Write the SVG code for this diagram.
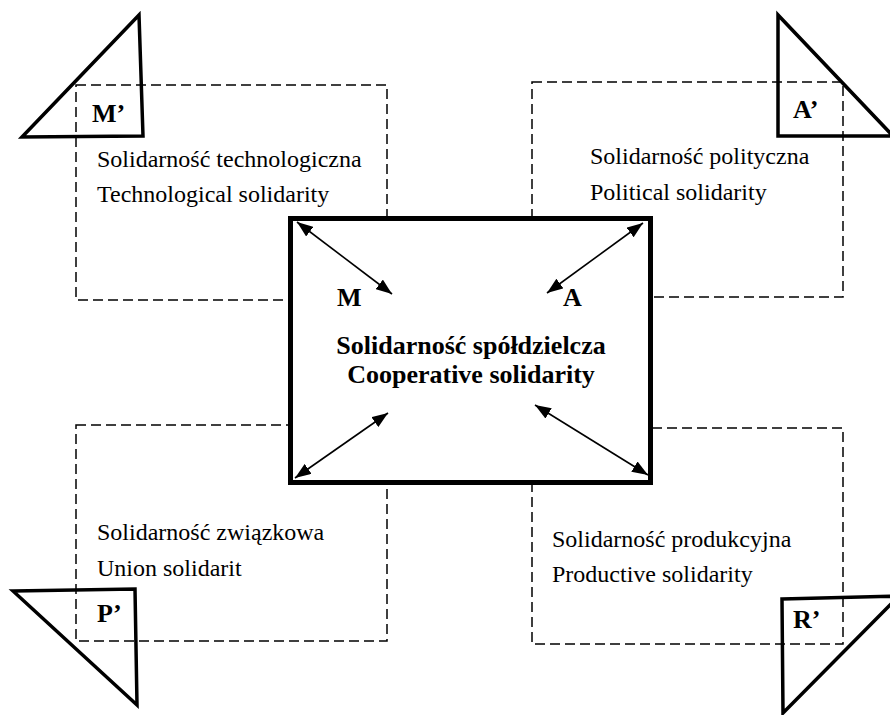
<svg xmlns="http://www.w3.org/2000/svg" width="890" height="715" viewBox="0 0 890 715">
  <style>
    .dash { fill: none; stroke: #000; stroke-width: 1.5; stroke-dasharray: 10 5; }
    .tri { fill: none; stroke: #000; stroke-width: 3.5; stroke-linejoin: miter; }
    .core { fill: #fff; stroke: #000; stroke-width: 5; }
    .lbl { font-family: "Liberation Serif", "Times New Roman", serif; font-size: 24px; fill: #000; }
    .tag { font-family: "Liberation Serif", "Times New Roman", serif; font-size: 26px; font-weight: bold; fill: #000; }
    .main { font-family: "Liberation Serif", "Times New Roman", serif; font-size: 26px; font-weight: bold; fill: #000; text-anchor: middle; }
    .link { fill: none; stroke: #000; stroke-width: 1.6; marker-start: url(#head); marker-end: url(#head); }
  </style>
  <defs>
    <marker id="head" viewBox="0 0 16 12" refX="16" refY="6" markerWidth="16" markerHeight="12" markerUnits="userSpaceOnUse" orient="auto-start-reverse">
      <path d="M0,0 L16,6 L0,12 z" fill="#000"/>
    </marker>
  </defs>

  <!-- Technological solidarity -->
  <g id="technological">
    <rect class="dash" x="76" y="85" width="311" height="215"/>
    <polygon class="tri" points="139,15 22,137 143,136"/>
    <text class="tag" x="92" y="122">M’</text>
    <text class="lbl" x="97" y="167">Solidarność technologiczna</text>
    <text class="lbl" x="97" y="202">Technological solidarity</text>
  </g>

  <!-- Political solidarity -->
  <g id="political">
    <rect class="dash" x="532" y="82" width="311" height="215"/>
    <polygon class="tri" points="778,15 778,136 893,136"/>
    <text class="tag" x="793" y="118">A’</text>
    <text class="lbl" x="590" y="164">Solidarność polityczna</text>
    <text class="lbl" x="590" y="200">Political solidarity</text>
  </g>

  <!-- Union solidarity -->
  <g id="union">
    <rect class="dash" x="76" y="425" width="311" height="216"/>
    <polygon class="tri" points="13,591 135,589 137,705"/>
    <text class="tag" x="97" y="622">P’</text>
    <text class="lbl" x="97" y="540">Solidarność związkowa</text>
    <text class="lbl" x="97" y="576">Union solidarit</text>
  </g>

  <!-- Productive solidarity -->
  <g id="productive">
    <rect class="dash" x="532" y="428" width="311" height="216"/>
    <polygon class="tri" points="782,599 899,596 783,713"/>
    <text class="tag" x="793" y="628">R’</text>
    <text class="lbl" x="552" y="547">Solidarność produkcyjna</text>
    <text class="lbl" x="552" y="582">Productive solidarity</text>
  </g>

  <!-- Cooperative solidarity (centre) -->
  <g id="cooperative">
    <rect class="core" x="290.5" y="218.5" width="360" height="264"/>
    <text class="tag" x="337" y="306">M</text>
    <text class="tag" x="563" y="306">A</text>
    <text class="main" x="471" y="354">Solidarność spółdzielcza</text>
    <text class="main" x="471" y="383">Cooperative solidarity</text>
  </g>

  <!-- Two-way links inside the centre box -->
  <g id="connectors">
    <line class="link" x1="297" y1="222" x2="392" y2="294"/>
    <line class="link" x1="643" y1="223" x2="547" y2="293"/>
    <line class="link" x1="295" y1="478" x2="388" y2="413"/>
    <line class="link" x1="535" y1="405" x2="648" y2="475"/>
  </g>
</svg>
